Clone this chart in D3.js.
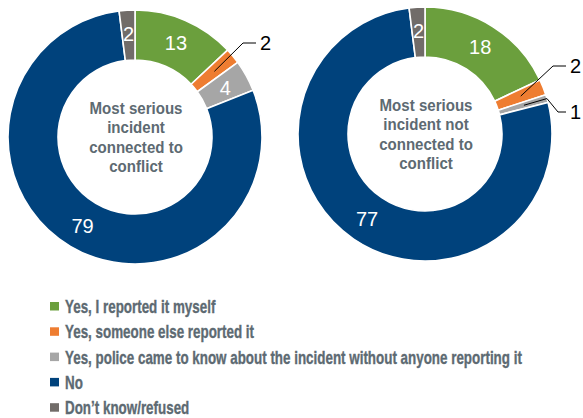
<!DOCTYPE html>
<html>
<head>
<meta charset="utf-8">
<script src="https://cdn.jsdelivr.net/npm/d3@7"></script>
<style>
  html, body { margin: 0; padding: 0; background: #ffffff; }
  svg { display: block; }
  .narrow { font-family: "Liberation Sans", Arial, sans-serif; font-weight: bold; }
  .num { font-family: "Liberation Sans", Arial, sans-serif; }
</style>
</head>
<body>
<svg id="chart" width="583" height="418"></svg>
<script>
// Response categories, in drawing order (clockwise from 12 o'clock)
const categories = [
  "Yes, I reported it myself",
  "Yes, someone else reported it",
  "Yes, police came to know about the incident without anyone reporting it",
  "No",
  "Don\u2019t know/refused"
];
const colors = ["#6b9f3d", "#ee7d31", "#a6a6a6", "#00427c", "#716c69"];

// Percentages for each donut
const conflictValues = [13, 2, 4, 79, 2];
const nonConflictValues = [18, 2, 1, 77, 2];

// Centre captions
const conflictTitle = ["Most serious", "incident", "connected to", "conflict"];
const nonConflictTitle = ["Most serious", "incident not", "connected to", "conflict"];

// Which slices get an outside callout instead of an inside label
const conflictCallouts = [1];
const nonConflictCallouts = [1, 2];

const svg = d3.select("#chart");
const textColor = "#5d6a72";
const outerR = 127, innerR = 77;

const pie = d3.pie().sort(null).value(d => d);
const arc = d3.arc().innerRadius(innerR).outerRadius(outerR);
const labelArc = d3.arc().innerRadius(innerR + 26).outerRadius(innerR + 26);

// Width of a string in the bold face before squeezing
function measure(str, size) {
  const t = svg.append("text").attr("class", "narrow").attr("font-size", size).text(str);
  const w = t.node().getComputedTextLength();
  t.remove();
  return w;
}

const captionSize = 16;
const captionScale = 93 / measure("Most serious", captionSize);

function donut(cx, cy, values, title, callouts, calloutSpec) {
  const g = svg.append("g").attr("transform", `translate(${cx},${cy})`);
  const arcs = pie(values);

  g.selectAll("path.slice")
    .data(arcs)
    .join("path")
    .attr("class", "slice")
    .attr("d", arc)
    .attr("fill", (d, i) => colors[i])
    .attr("stroke", "#ffffff")
    .attr("stroke-width", 1.6);

  // inside value labels
  g.selectAll("text.val")
    .data(arcs.filter((d, i) => !callouts.includes(i)))
    .join("text")
    .attr("class", "val num")
    .attr("transform", d => `translate(${labelArc.centroid(d)})`)
    .attr("text-anchor", "middle")
    .attr("dy", "0.36em")
    .attr("fill", "#ffffff")
    .attr("font-size", 20)
    .text(d => d.value);

  // outside callouts with leader lines
  callouts.forEach((idx, k) => {
    const d = arcs[idx];
    const start = labelArc.centroid(d);
    const mid = (d.startAngle + d.endAngle) / 2;
    const spec = calloutSpec[k];
    const elbow = spec.elbow === "edge"
      ? [Math.sin(mid) * outerR, -Math.cos(mid) * outerR]
      : [spec.elbow[0] - cx, spec.elbow[1] - cy];
    const pts = [start, elbow, [spec.knee[0] - cx, spec.knee[1] - cy], [spec.end[0] - cx, spec.end[1] - cy]];
    g.append("path")
      .attr("d", d3.line()(pts))
      .attr("fill", "none")
      .attr("stroke", "#000000")
      .attr("stroke-width", 1);
    g.append("text")
      .attr("class", "num")
      .attr("x", spec.end[0] - cx + 4)
      .attr("y", spec.end[1] - cy)
      .attr("dy", "0.36em")
      .attr("font-size", 20)
      .attr("fill", "#000000")
      .text(d.value);
  });

  // centre caption, squeezed horizontally into a condensed look
  const lineH = 19.4;
  g.append("g")
    .attr("transform", `translate(1,0) scale(${captionScale},1)`)
    .append("text")
    .attr("class", "narrow")
    .attr("text-anchor", "middle")
    .attr("fill", textColor)
    .attr("font-size", captionSize)
    .selectAll("tspan")
    .data(title)
    .join("tspan")
    .attr("x", 0)
    .attr("y", (d, i) => (i - (title.length - 1) / 2) * lineH + 6)
    .text(d => d);
}

donut(135, 137, conflictValues, conflictTitle, conflictCallouts, [
  { elbow: [243, 43], knee: [243, 43], end: [256, 43] }
]);
donut(425, 134, nonConflictValues, nonConflictTitle, nonConflictCallouts, [
  { elbow: [553, 66], knee: [553, 66], end: [566, 66] },
  { elbow: "edge", knee: [558, 112], end: [566, 112] }
]);

// legend
const legendSize = 17.5;
const legendScale = 332 / measure("Yes, police came to know about the incident without ", legendSize);
const legend = svg.append("g").attr("transform", "translate(50,302)");
const rowH = 25.3;
const rows = legend.selectAll("g.row")
  .data(categories)
  .join("g")
  .attr("class", "row")
  .attr("transform", (d, i) => `translate(0,${i * rowH})`);
rows.append("rect")
  .attr("width", 9).attr("height", 8.5)
  .attr("fill", (d, i) => colors[i]);
rows.append("text")
  .attr("class", "narrow")
  .attr("transform", `translate(15,11) scale(${legendScale},1)`)
  .attr("font-size", legendSize)
  .attr("fill", textColor)
  .attr("stroke", textColor)
  .attr("stroke-width", 0.35)
  .text(d => d);
</script>
</body>
</html>
